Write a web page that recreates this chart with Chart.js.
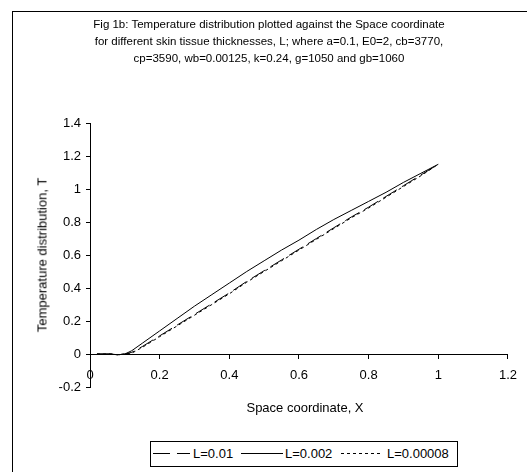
<!DOCTYPE html>
<html>
<head>
<meta charset="utf-8">
<script src="https://cdn.jsdelivr.net/npm/chart.js@4/dist/chart.umd.min.js"></script>
<style>
  body { margin: 0; background: #fff; overflow: hidden; font-family: "Liberation Sans", Arial, sans-serif; color: #000; }
  #wrap { position: relative; width: 527px; height: 472px; overflow: hidden; }
  #frame { position: absolute; left: 12px; top: 11px; width: 600px; height: 600px; border: 1px solid #000; }
  #titulo { position: absolute; left: 12px; width: 514px; top: 16px; text-align: center; font-size: 11.5px; line-height: 17px; }
  #eixoY { position: absolute; left: 42px; top: 255px; transform: translate(-50%, -50%) rotate(-90deg); white-space: nowrap; font-size: 13px; }
  #eixoX { position: absolute; left: 305px; top: 407px; transform: translate(-50%, -50%); white-space: nowrap; font-size: 13px; }
  #legenda { position: absolute; left: 150px; top: 441px; }
  canvas { position: absolute; left: 0; top: 0; }
</style>
</head>
<body>
<div id="wrap">
  <div id="frame"></div>
  <canvas id="grafico" width="527" height="472"></canvas>
  <div id="titulo">Fig 1b: Temperature distribution plotted against the Space coordinate<br>for different skin tissue thicknesses, L; where a=0.1, E0=2, cb=3770,<br>cp=3590, wb=0.00125, k=0.24, g=1050 and gb=1060</div>
  <div id="eixoY">Temperature distribution, T</div>
  <div id="eixoX">Space coordinate, X</div>
  <svg id="legenda" width="308" height="26">
    <rect x="0.5" y="0.5" width="307" height="25" fill="#fff" stroke="#000"/>
    <line x1="3" y1="12.5" x2="40" y2="12.5" stroke="#000" stroke-dasharray="17 7"/>
    <text x="43" y="17" font-size="13">L=0.01</text>
    <line x1="91" y1="12.5" x2="133" y2="12.5" stroke="#000"/>
    <text x="135" y="17" font-size="13">L=0.002</text>
    <line x1="191" y1="12.5" x2="233" y2="12.5" stroke="#000" stroke-dasharray="3 3"/>
    <text x="237" y="17" font-size="13">L=0.00008</text>
  </svg>
</div>
<script>
const xs = [0.02, 0.04, 0.06, 0.08, 0.1, 0.12, 0.15, 0.2, 0.25, 0.3, 0.35, 0.4, 0.45, 0.5, 0.55, 0.6, 0.65, 0.7, 0.75, 0.8, 0.85, 0.9, 0.95, 1.0]

const tL001 = [0, 0, 0, -0.005, 0, 0.01, 0.045, 0.11, 0.175, 0.24, 0.305, 0.37, 0.44, 0.505, 0.57, 0.635, 0.70, 0.765, 0.83, 0.89, 0.955, 1.02, 1.085, 1.15]
const tL0002 = [0, 0, 0, -0.005, 0, 0.02, 0.065, 0.14, 0.215, 0.29, 0.36, 0.43, 0.50, 0.565, 0.63, 0.69, 0.755, 0.815, 0.87, 0.925, 0.98, 1.04, 1.095, 1.15]
const tL000008 = [0, 0, 0, -0.005, 0, 0.005, 0.04, 0.105, 0.17, 0.235, 0.30, 0.365, 0.435, 0.50, 0.565, 0.63, 0.695, 0.76, 0.825, 0.885, 0.95, 1.015, 1.08, 1.15]

const seriesLabels = ["L=0.01", "L=0.002", "L=0.00008"]

function pontos(valores) {
  return xs.map((x, i) => ({ x, y: valores[i] }))
}

Chart.defaults.font.family = '"Liberation Sans", Arial, sans-serif'
Chart.defaults.font.size = 13
Chart.defaults.color = "#000"

new Chart(document.getElementById("grafico"), {
  type: "line",
  data: {
    datasets: [
      { label: seriesLabels[0], data: pontos(tL001), borderDash: [16, 6] },
      { label: seriesLabels[1], data: pontos(tL0002) },
      { label: seriesLabels[2], data: pontos(tL000008), borderDash: [3, 3] }
    ].map(d => ({ ...d, borderColor: "#000", borderWidth: 1, pointRadius: 0, tension: 0, fill: false }))
  },
  options: {
    responsive: false,
    animation: false,
    devicePixelRatio: 1,
    layout: { padding: { left: 0, top: 123, right: 16, bottom: 85 } },
    plugins: { legend: { display: false }, tooltip: { enabled: false } },
    scales: {
      x: {
        type: "linear",
        min: 0,
        max: 1.2,
        position: { y: 0 },
        ticks: { stepSize: 0.2, padding: 10, maxRotation: 0, callback: v => String(+v.toFixed(1)) },
        grid: { drawOnChartArea: false, drawTicks: true, tickLength: 4, color: "#000" },
        border: { display: true, color: "#000", width: 1 }
      },
      y: {
        min: -0.2,
        max: 1.4,
        afterFit: s => { s.width = 90 },
        ticks: { stepSize: 0.2, padding: 5, callback: v => String(+v.toFixed(1)) },
        grid: { drawOnChartArea: false, drawTicks: true, tickLength: 4, color: "#000" },
        border: { display: true, color: "#000", width: 1 }
      }
    }
  }
})
</script>
</body>
</html>
